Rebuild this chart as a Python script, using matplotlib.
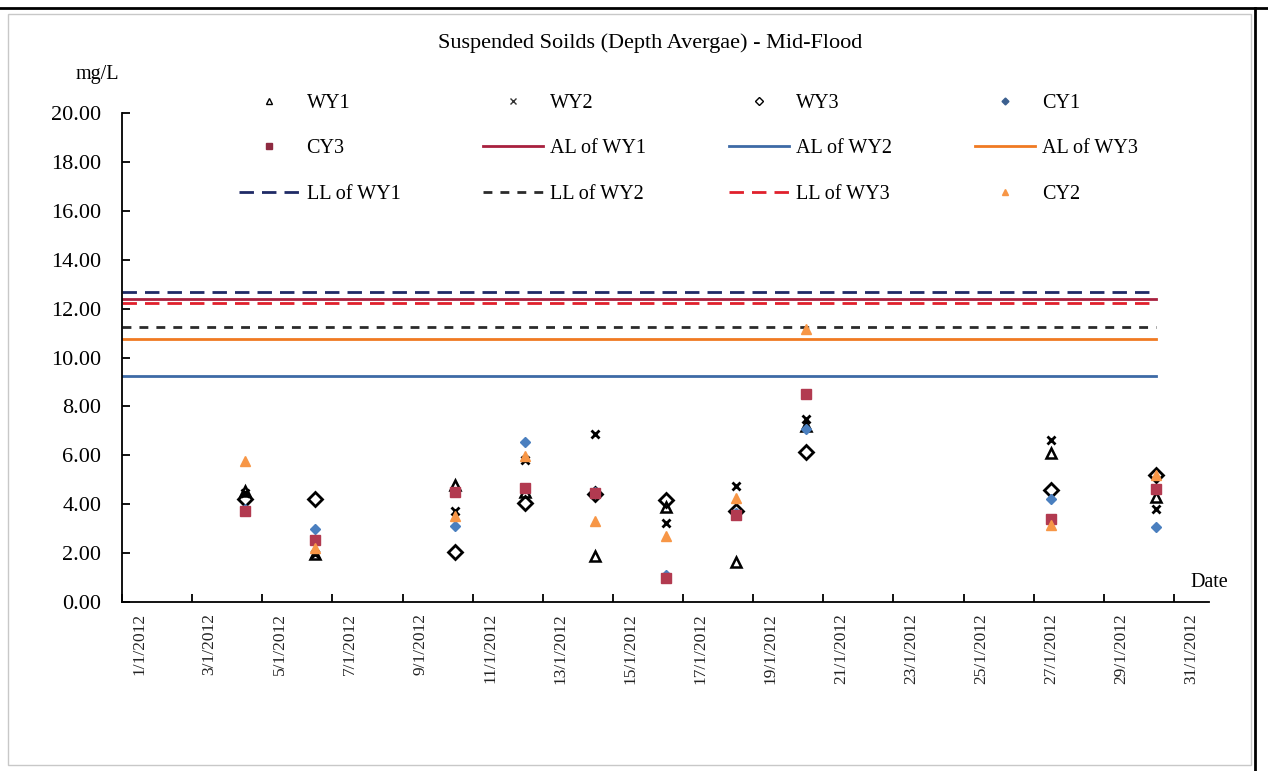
import matplotlib.pyplot as plt
from matplotlib.lines import Line2D
from matplotlib.patches import Rectangle
from datetime import datetime, timedelta

plt.rcParams["font.family"] = ["Liberation Serif", "DejaVu Serif"]

# sampling days (January 2012)
days = [4, 6, 10, 12, 14, 16, 18, 20, 27, 30]

wy1 = [4.55, 1.95, 4.78, 4.50, 1.90, 3.88, 1.65, 7.20, 6.10, 4.31]
wy2 = [4.45, 1.95, 3.73, 5.80, 6.86, 3.22, 4.74, 7.48, 6.63, 3.79]
wy3 = [4.21, 4.20, 2.06, 4.04, 4.42, 4.17, 3.72, 6.13, 4.58, 5.19]
cy1 = [3.80, 2.97, 3.10, 6.53, 4.50, 1.10, 3.65, 7.08, 4.20, 3.06]
cy3 = [3.73, 2.52, 4.50, 4.65, 4.45, 0.98, 3.55, 8.51, 3.38, 4.61]
cy2 = [5.75, 2.22, 3.50, 5.97, 3.30, 2.70, 4.24, 11.15, 3.15, 5.20]

# action / limit levels
al_wy1 = 12.38
al_wy2 = 9.25
al_wy3 = 10.77
ll_wy1 = 12.66
ll_wy2 = 11.25
ll_wy3 = 12.22

line_start = datetime(2011, 12, 31, 12)
line_end = datetime(2012, 1, 30)

dates = [datetime(2012, 1, d) for d in days]
label_days = list(range(1, 32, 2))
tick_labels = [f"{d}/1/2012" for d in label_days]

fig = plt.figure(figsize=(12.68, 7.71), dpi=100)
ax = fig.add_axes([0.0962, 0.2192, 0.8573, 0.6342])

# frame around the chart
fig.add_artist(Rectangle((8 / 1268, 6 / 771), 1243 / 1268, 751 / 771,
                         transform=fig.transFigure, fill=False,
                         edgecolor="#c8c8c8", lw=1))
fig.add_artist(Line2D([0, 1], [0.990, 0.990], transform=fig.transFigure,
                      color="black", lw=2))
fig.add_artist(Line2D([0.990, 0.990], [0, 0.990], transform=fig.transFigure,
                      color="black", lw=2))

lx = [line_start, line_end]
h_al1, = ax.plot(lx, [al_wy1] * 2, color="#a8203e", lw=2, label="AL of WY1")
h_al2, = ax.plot(lx, [al_wy2] * 2, color="#3d6aa6", lw=2, label="AL of WY2")
h_al3, = ax.plot(lx, [al_wy3] * 2, color="#f07a22", lw=2, label="AL of WY3")
h_ll1, = ax.plot(lx, [ll_wy1] * 2, color="#1f2a66", lw=2,
                 dashes=(5.2, 2.9), label="LL of WY1")
h_ll2, = ax.plot(lx, [ll_wy2] * 2, color="#2b2b2b", lw=2,
                 dashes=(3.2, 2.9), label="LL of WY2")
h_ll3, = ax.plot(lx, [ll_wy3] * 2, color="#e0202c", lw=2,
                 dashes=(5.2, 2.9), label="LL of WY3")

ax.plot(dates, wy1, ls="none", marker="^", ms=7, mfc="none",
        mec="black", mew=1.8)
ax.plot(dates, wy2, ls="none", marker="x", ms=6, mec="black", mew=2)
ax.plot(dates, wy3, ls="none", marker="D", ms=7, mfc="none",
        mec="black", mew=2)
ax.plot(dates, cy1, ls="none", marker="D", ms=5, color="#4a7fbf")
ax.plot(dates, cy3, ls="none", marker="s", ms=6.5, color="#b23a50")
ax.plot(dates, cy2, ls="none", marker="^", ms=7, color="#f79646", zorder=5)

# smaller markers for the legend keys
h_wy1 = Line2D([], [], ls="none", marker="^", ms=4.5, mfc="none", mec="black", mew=1)
h_wy2 = Line2D([], [], ls="none", marker="x", ms=4, mec="#333333", mew=1)
h_wy3 = Line2D([], [], ls="none", marker="D", ms=4, mfc="none", mec="black", mew=1)
h_cy1 = Line2D([], [], ls="none", marker="D", ms=3.5, color="#3b5f8f")
h_cy3 = Line2D([], [], ls="none", marker="s", ms=4.5, color="#8e2a40")
h_cy2 = Line2D([], [], ls="none", marker="^", ms=4.5, color="#f79646")

ax.set_ylim(0, 20)
ax.set_yticks(range(0, 21, 2))
ax.set_yticklabels([f"{v:.2f}" for v in range(0, 21, 2)])
ax.set_xlim(datetime(2011, 12, 31, 12), datetime(2012, 1, 31, 12))
ax.set_xticks([datetime(2011, 12, 31, 12) + timedelta(days=2 * k) for k in range(16)])
ax.set_xticklabels([])
ax.set_xticks([datetime(2012, 1, d) for d in label_days], minor=True)
ax.set_xticklabels(tick_labels, minor=True, rotation=90, fontsize=12.5)

ax.spines["top"].set_visible(False)
ax.spines["right"].set_visible(False)
for s in ("left", "bottom"):
    ax.spines[s].set_linewidth(1.3)
ax.tick_params(axis="y", direction="in", length=6, width=1.3, pad=15, labelsize=16)
ax.tick_params(axis="x", which="major", direction="in", length=6, width=1.3)
ax.tick_params(axis="x", which="minor", length=0, pad=8, colors="#222222")

fig.text(0.513, 0.944, "Suspended Soilds (Depth Avergae) - Mid-Flood",
         ha="center", va="center", fontsize=16)
fig.text(0.077, 0.903, "mg/L", ha="center", va="center", fontsize=14.5)
fig.text(0.954, 0.244, "Date", ha="center", va="center", fontsize=14.5)

handles = [h_wy1, h_wy2, h_wy3, h_cy1,
           h_cy3, h_al1, h_al2, h_al3,
           h_ll1, h_ll2, h_ll3, h_cy2]
labels = ["WY1", "WY2", "WY3", "CY1",
          "CY3", "AL of WY1", "AL of WY2", "AL of WY3",
          "LL of WY1", "LL of WY2", "LL of WY3", "CY2"]
order = [0, 4, 8, 1, 5, 9, 2, 6, 10, 3, 7, 11]
ax.legend([handles[i] for i in order], [labels[i] for i in order], ncol=4,
          loc="upper left", bbox_to_anchor=(229 / 1268, 1 - 84 / 771),
          bbox_transform=fig.transFigure, frameon=False, fontsize=14.5,
          handlelength=3.0, handletextpad=0.35, columnspacing=4.1,
          labelspacing=1.3, borderpad=0)

fig.savefig("out.png", dpi=100)
